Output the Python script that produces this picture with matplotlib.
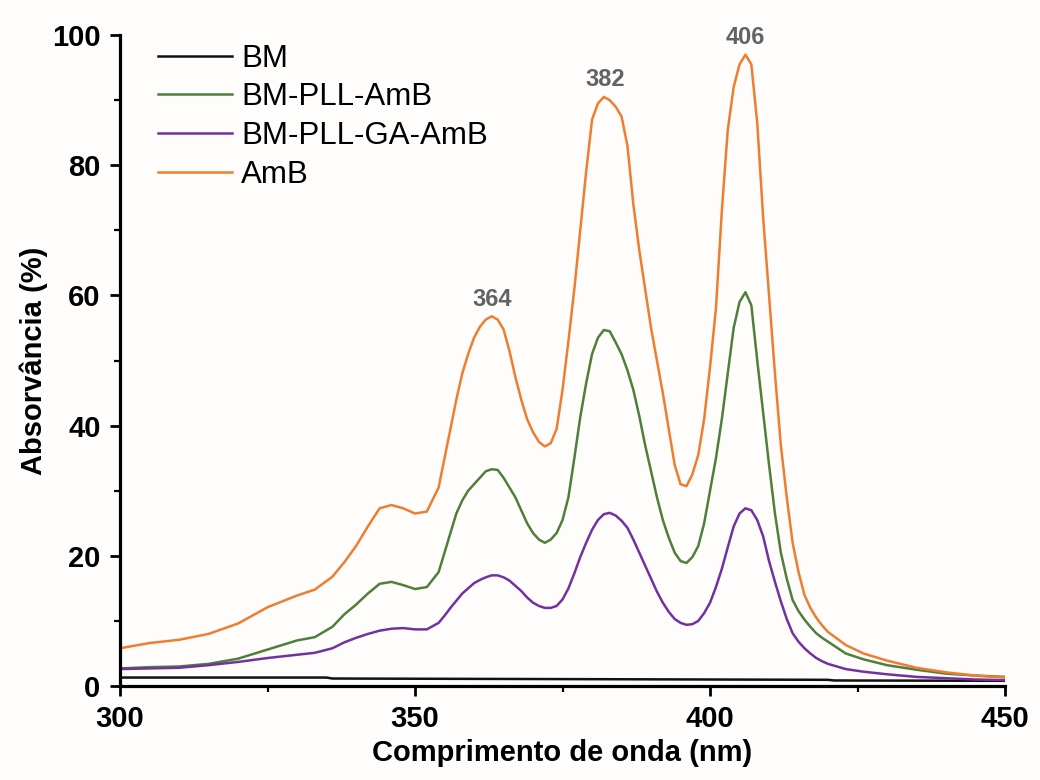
import matplotlib
matplotlib.use("Agg")
import matplotlib.pyplot as plt
from matplotlib.ticker import MultipleLocator

plt.rcParams['font.family'] = ['Liberation Sans', 'DejaVu Sans']

wavelength = ([300, 305, 310, 315, 320, 325, 330, 333, 336, 338, 340, 342, 344, 346, 348, 350, 352]
              + list(range(354, 421))
              + [423, 426, 430, 435, 440, 445, 450])

amb = [5.8, 6.6, 7.1, 8.0, 9.6, 12.1, 13.9, 14.8, 16.8, 19.0, 21.5, 24.5, 27.3, 27.8, 27.3, 26.5, 26.8,
       30.5, 35.0, 39.5, 44.0, 48.0, 51.0, 53.5, 55.2, 56.3, 56.8, 56.3, 54.8, 51.5, 47.5, 44.0, 41.0,
       39.0, 37.5, 36.8, 37.3, 39.5, 45.5, 53.0, 61.0, 70.0, 79.0, 87.0, 89.5, 90.5, 90.0, 89.0, 87.5,
       83.0, 74.0, 67.0, 61.0, 55.0, 50.0, 45.0, 39.5, 34.0, 31.0, 30.7, 32.5, 35.5, 41.0, 49.0, 58.0,
       73.0, 85.4, 92.0, 95.5, 97.0, 95.5, 86.5, 72.0, 60.0, 48.0, 37.0, 29.0, 22.0, 17.5, 14.0, 12.0,
       10.5, 9.3, 8.3,
       6.3, 5.0, 3.9, 2.8, 2.1, 1.6, 1.3]

bm_pll_amb = [2.7, 2.9, 3.0, 3.4, 4.2, 5.6, 7.0, 7.5, 9.1, 11.0, 12.5, 14.2, 15.7, 16.0, 15.5, 14.9, 15.2,
              17.5, 20.5, 23.5, 26.5, 28.5, 30.0, 31.0, 32.0, 33.0, 33.3, 33.2, 32.0, 30.5, 29.0, 27.0, 25.0,
              23.5, 22.5, 22.0, 22.5, 23.5, 25.5, 29.0, 35.0, 41.3, 46.5, 51.0, 53.5, 54.7, 54.5, 52.8, 51.0,
              48.5, 45.5, 41.5, 37.0, 33.0, 29.0, 25.5, 22.8, 20.5, 19.2, 18.9, 19.8, 21.5, 25.0, 30.0, 35.0,
              41.0, 48.0, 55.0, 59.0, 60.5, 58.5, 50.0, 42.0, 34.0, 26.5, 20.5, 16.5, 13.2, 11.5, 10.2, 9.1,
              8.1, 7.4, 6.8,
              5.0, 4.1, 3.2, 2.5, 1.9, 1.6, 1.4]

bm_pll_ga_amb = [2.6, 2.7, 2.8, 3.2, 3.7, 4.3, 4.8, 5.1, 5.8, 6.7, 7.4, 8.0, 8.5, 8.8, 8.9, 8.7, 8.7,
                 9.7, 10.8, 12.0, 13.1, 14.2, 15.0, 15.8, 16.3, 16.7, 17.0, 17.0, 16.7, 16.2, 15.4, 14.6, 13.6,
                 12.8, 12.3, 12.0, 12.0, 12.3, 13.3, 15.0, 17.3, 19.8, 22.0, 24.0, 25.5, 26.4, 26.6, 26.2, 25.4,
                 24.3, 22.5, 20.5, 18.5, 16.5, 14.5, 12.8, 11.4, 10.3, 9.7, 9.4, 9.5, 10.0, 11.2, 12.8, 15.2,
                 18.0, 21.3, 24.5, 26.5, 27.3, 27.0, 25.5, 23.0, 19.2, 16.0, 13.0, 10.3, 8.1, 6.8, 5.8, 5.0,
                 4.3, 3.8, 3.4,
                 2.6, 2.2, 1.8, 1.4, 1.2, 1.0, 0.9]

bm_wavelength = [300, 335, 336, 380, 420, 421, 450]
bm = [1.3, 1.3, 1.15, 1.05, 0.95, 0.85, 0.8]

series_labels = ['BM', 'BM-PLL-AmB', 'BM-PLL-GA-AmB', 'AmB']
series_colors = ['#111111', '#4f7f3a', '#7231a0', '#ef7d30']

peak_labels = ['364', '382', '406']
peak_x = [363.0, 382.3, 405.9]
peak_y = [56.8, 90.5, 97.0]

bg = '#fefdfb'
fig = plt.figure(figsize=(10.4, 7.8), dpi=100, facecolor=bg)
ax = fig.add_axes([0.1154, 0.1205, 0.851, 0.8345], facecolor=bg)

lw = 1.8
ax.plot(bm_wavelength, bm, color=series_colors[0], lw=lw, label=series_labels[0])
ax.plot(wavelength, bm_pll_amb, color=series_colors[1], lw=lw, label=series_labels[1])
ax.plot(wavelength, bm_pll_ga_amb, color=series_colors[2], lw=lw, label=series_labels[2])
ax.plot(wavelength, amb, color=series_colors[3], lw=lw, label=series_labels[3])

for lab, px, py in zip(peak_labels, peak_x, peak_y):
    ax.annotate(lab, xy=(px, py), xytext=(0, 4), textcoords='offset points',
                ha='center', va='bottom', fontsize=17, fontweight='bold', color='#626262')

ax.set_xlim(300, 450)
ax.set_ylim(0, 100)
ax.xaxis.set_major_locator(MultipleLocator(50))
ax.xaxis.set_minor_locator(MultipleLocator(25))
ax.yaxis.set_major_locator(MultipleLocator(20))
ax.yaxis.set_minor_locator(MultipleLocator(10))

for s in ['top', 'right']:
    ax.spines[s].set_visible(False)
for s in ['left', 'bottom']:
    ax.spines[s].set_linewidth(2.3)
    ax.spines[s].set_color('black')

ax.tick_params(which='major', direction='out', length=7, width=2.0, pad=7,
               labelsize=21)
ax.tick_params(which='minor', direction='out', length=4, width=1.6)
for t in ax.get_xticklabels() + ax.get_yticklabels():
    t.set_fontweight('bold')

ax.set_xlabel('Comprimento de onda (nm)', fontsize=21, fontweight='bold', labelpad=4)
ax.set_ylabel('Absorvância (%)', fontsize=21, fontweight='bold', labelpad=3)

leg = ax.legend(loc='upper left', bbox_to_anchor=(0.043, 0.987), frameon=False,
                fontsize=22.5, handlelength=2.35, handletextpad=0.3, labelspacing=0.28,
                borderpad=0, borderaxespad=0)
for line in leg.get_lines():
    line.set_linewidth(1.8)

fig.savefig('out.png', dpi=100, facecolor=bg)
